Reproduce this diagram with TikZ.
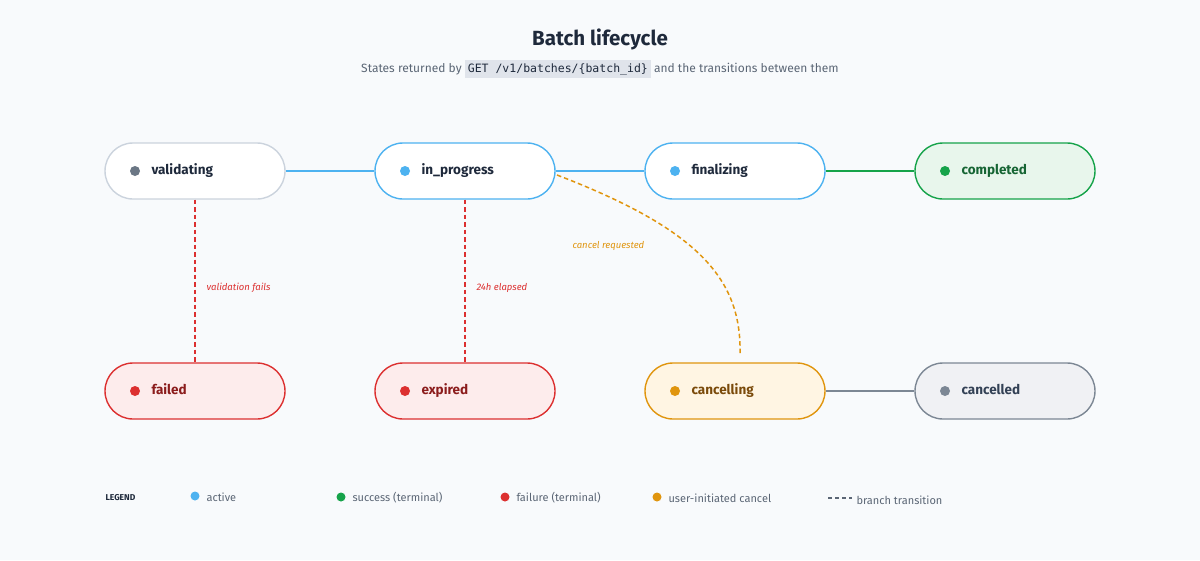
\documentclass[tikz,border=0pt]{standalone}
\usepackage{fontspec}
\setmainfont{Fira Sans}
\setmonofont{DejaVu Sans Mono}
\definecolor{bg}{HTML}{F8FAFC}
\definecolor{ink}{HTML}{1E293B}
\definecolor{sub}{HTML}{5B6675}
\definecolor{blueB}{HTML}{4DB2F0}
\definecolor{greyB}{HTML}{CBD3DD}
\definecolor{greyD}{HTML}{6B7785}
\definecolor{greenB}{HTML}{16A34A}
\definecolor{greenF}{HTML}{E8F6EC}
\definecolor{greenT}{HTML}{166534}
\definecolor{redB}{HTML}{DC3030}
\definecolor{redF}{HTML}{FDECEC}
\definecolor{redT}{HTML}{8B1C1C}
\definecolor{orB}{HTML}{E0950E}
\definecolor{orF}{HTML}{FFF5E3}
\definecolor{orT}{HTML}{7A4A0A}
\definecolor{cgB}{HTML}{7C8794}
\definecolor{cgF}{HTML}{F0F1F4}
\definecolor{cgT}{HTML}{334155}
\tikzset{
  st/.style={draw, line width=1.4pt, rounded corners=28pt, minimum width=180pt, minimum height=56pt, inner sep=0pt},
  dot/.style={circle, fill=#1, minimum size=10pt, inner sep=0pt},
  lab/.style={anchor=west, font=\bfseries\fontsize{13.5}{15}\selectfont, text=#1},
  edge/.style={line width=2pt},
  br/.style={line width=1.5pt, dash pattern=on 4.5pt off 3pt},
  el/.style={font=\itshape\fontsize{9.5}{11}\selectfont, anchor=west},
  leg/.style={anchor=west, font=\fontsize{11}{13}\selectfont, text=sub}
}
\begin{document}
\begin{tikzpicture}[x=1pt,y=-1pt]
\fill[bg] (0,0) rectangle (1200,560);
\useasboundingbox (0,0) rectangle (1200,560);
\node[font=\bfseries\fontsize{20.5}{24}\selectfont, text=ink] (title) at (600,39) {Batch lifecycle};
\node[font=\fontsize{12}{14}\selectfont, text=sub] (subt) at (600,69) {States returned by \colorbox{greyB!60}{\ttfamily\fontsize{11.5}{13}\selectfont\textcolor{ink}{GET /v1/batches/\{batch\_id\}}} and the transitions between them};

\node[st, draw=greyB, fill=white] (validating) at (195,171) {};
\node[dot=greyD] (vd) at (135,171) {};
\node[lab=ink] (vt) at (148,171) {validating\strut};
\node[st, draw=blueB, fill=white] (inprogress) at (465,171) {};
\node[dot=blueB] (id) at (405,171) {};
\node[lab=ink] (it) at (418,171) {in\_progress\strut};
\node[st, draw=blueB, fill=white] (finalizing) at (735,171) {};
\node[dot=blueB] (fd) at (675,171) {};
\node[lab=ink] (ft) at (688,171) {finalizing\strut};
\node[st, draw=greenB, fill=greenF] (completed) at (1005,171) {};
\node[dot=greenB] (cd) at (945,171) {};
\node[lab=greenT] (ct) at (958,171) {completed\strut};

\node[st, draw=redB, fill=redF] (failed) at (195,391) {};
\node[dot=redB] (fad) at (135,391) {};
\node[lab=redT] (fat) at (148,391) {failed\strut};
\node[st, draw=redB, fill=redF] (expired) at (465,391) {};
\node[dot=redB] (ed) at (405,391) {};
\node[lab=redT] (et) at (418,391) {expired\strut};
\node[st, draw=orB, fill=orF] (cancelling) at (735,391) {};
\node[dot=orB] (cgd) at (675,391) {};
\node[lab=orT] (cgt) at (688,391) {cancelling\strut};
\node[st, draw=cgB, fill=cgF] (cancelled) at (1005,391) {};
\node[dot=cgB] (cdd) at (945,391) {};
\node[lab=cgT] (cdt) at (958,391) {cancelled\strut};

\draw[edge, blueB] (validating) -- (inprogress);
\draw[edge, blueB] (inprogress) -- (finalizing);
\draw[edge, greenB] (finalizing) -- (completed);
\draw[edge, cgB] (cancelling) -- (cancelled);

\coordinate (cend) at (740,355);
\draw[br, redB] (validating.south) -- (failed.north);
\node[el, text=redB] (l1) at (203,288) {validation fails};
\draw[br, redB] (inprogress.south) -- (expired.north);
\node[el, text=redB] (l2) at (473,288) {24h elapsed};
\coordinate (cs) at (557,175);
\draw[br, orB] (cs) .. controls (700,230) and (742,280) .. (cend);
\node[el, text=orB] (l3) at (569,246) {cancel requested};

\node[anchor=west, font=\bfseries\fontsize{8.5}{10}\selectfont, text=ink] (lg) at (102,498) {LEGEND};
\node[dot=blueB, minimum size=9pt] (g1) at (195,496) {};
\node[leg] (g1t) at (203,497) {active};
\node[dot=greenB, minimum size=9pt] (g2) at (341,497) {};
\node[leg] (g2t) at (349,498) {success (terminal)};
\node[dot=redB, minimum size=9pt] (g3) at (505,497) {};
\node[leg] (g3t) at (513,498) {failure (terminal)};
\node[dot=orB, minimum size=9pt] (g4) at (657,497) {};
\node[leg] (g4t) at (665,498) {user-initiated cancel};
\coordinate (b1) at (828,498);
\coordinate (b2) at (852,498);
\draw[line width=1.4pt, sub, dash pattern=on 4pt off 3pt] (b1) -- (b2);
\node[leg] (g5t) at (853,500) {branch transition};
\end{tikzpicture}
\end{document}
